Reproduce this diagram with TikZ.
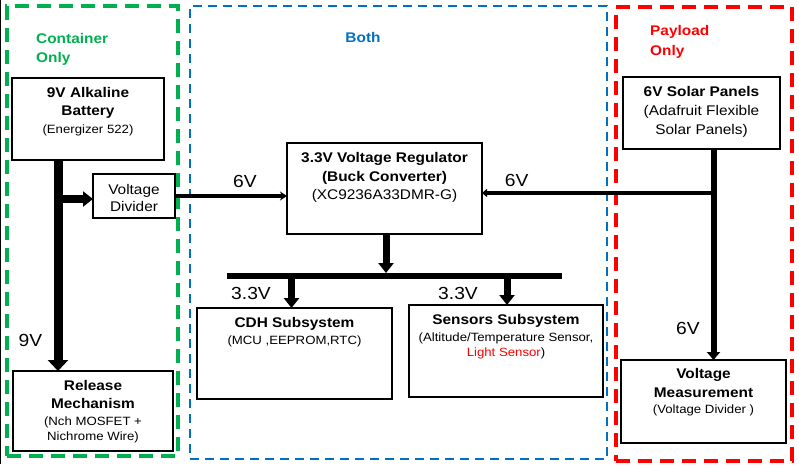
\documentclass[tikz,border=0pt]{standalone}
\usepackage{fontspec}
\setmainfont[FakeStretch=1.1]{Liberation Sans}
\usetikzlibrary{arrows.meta}
\definecolor{cgreen}{RGB}{0,176,80}
\definecolor{cblue}{RGB}{0,112,192}
\definecolor{cred}{RGB}{255,0,0}
\tikzset{
  blk/.style={draw=black, line width=2pt, inner sep=0pt, outer sep=0pt},
  zoneg/.style={draw=cgreen, line width=4pt, dash pattern=on 14pt off 8pt, inner sep=0pt, outer sep=0pt},
  zoneb/.style={draw=cblue, line width=2.5pt, dash pattern=on 9pt off 6pt, inner sep=0pt, outer sep=0pt},
  zoner/.style={draw=cred, line width=4pt, dash pattern=on 14pt off 8pt, inner sep=0pt, outer sep=0pt},
  ttl/.style={font=\fontsize{14}{16}\selectfont\bfseries, anchor=base, inner sep=0pt},
  sub/.style={font=\fontsize{12}{14}\selectfont, anchor=base, inner sep=0pt},
  subl/.style={font=\fontsize{14}{16}\selectfont, anchor=base, inner sep=0pt},
  lbl/.style={font=\fontsize{17.5}{20}\selectfont, anchor=base, inner sep=0pt},
  bigarr/.style={line width=9pt, -{Triangle[length=11pt,width=20pt]}},
  medarr/.style={line width=7pt, -{Triangle[length=10pt,width=15pt]}},
  thinarr/.style={line width=3.5pt, -{Stealth[length=7pt,width=9pt]}},
}
\begin{document}
\begin{tikzpicture}[x=1pt,y=-1pt]
\useasboundingbox (0,0) rectangle (799,464);
\draw[line width=1pt] (0.5,0) -- (0.5,464);
% zones
\node[zoneg, minimum width=171pt, minimum height=450pt] (zc) at (92.5,231) {};
\node[zoneb, minimum width=417pt, minimum height=453pt] (zb) at (398.5,232.5) {};
\node[zoner, minimum width=176pt, minimum height=454pt] (zp) at (704,234) {};
\node[ttl, text=cgreen, anchor=base west] (c1) at (36,43.3) {Container};
\node[ttl, text=cgreen, anchor=base west] (c2) at (36,62) {Only};
\node[ttl, text=cblue] (b1) at (363,42.7) {Both};
\node[ttl, text=cred, anchor=base west] (p1) at (650,35.7) {Payload};
\node[ttl, text=cred, anchor=base west] (p2) at (650,55) {Only};
% boxes
\node[blk, minimum width=152pt, minimum height=82pt] (bat) at (88,119) {};
\node[blk, minimum width=82pt, minimum height=44pt] (div) at (134,196) {};
\node[blk, minimum width=195pt, minimum height=91pt] (reg) at (384.5,188.5) {};
\node[blk, minimum width=157pt, minimum height=72pt] (sol) at (701.5,113) {};
\node[blk, minimum width=165pt, minimum height=83pt] (vm) at (703.5,401.5) {};
\node[blk, minimum width=195pt, minimum height=91pt] (cdh) at (294.5,353.5) {};
\node[blk, minimum width=194pt, minimum height=92pt] (sen) at (506,351) {};
\node[blk, minimum width=160pt, minimum height=80pt] (rel) at (93,411) {};
% texts
\node[ttl] (bat1) at (88,97.3) {9V Alkaline};
\node[ttl] (bat2) at (88,115.3) {Battery};
\node[sub] (bat3) at (88,133) {(Energizer 522)};
\node[subl] (div1) at (134,194.3) {Voltage};
\node[subl] (div2) at (134,211.7) {Divider};
\node[ttl] (reg1) at (384.5,162.3) {3.3V Voltage Regulator};
\node[ttl] (reg2) at (384.5,181.3) {(Buck Converter)};
\node[subl] (reg3) at (384.5,199.5) {(XC9236A33DMR-G)};
\node[ttl] (sol1) at (701.5,96) {6V Solar Panels};
\node[subl] (sol2) at (701.5,115.5) {(Adafruit Flexible};
\node[subl] (sol3) at (701.5,134) {Solar Panels)};
\node[ttl] (cdh1) at (294.5,327.3) {CDH Subsystem};
\node[sub] (cdh2) at (294.5,344) {(MCU ,EEPROM,RTC)};
\node[ttl] (sen1) at (506,324.3) {Sensors Subsystem};
\node[sub] (sen2) at (506,341) {(Altitude/Temperature Sensor,};
\node[sub] (sen3) at (506,356.5) {\textcolor{cred}{Light Sensor})};
\node[ttl] (rel1) at (93,390) {Release};
\node[ttl] (rel2) at (93,408.3) {Mechanism};
\node[sub] (rel3) at (93,425) {(Nch MOSFET +};
\node[sub] (rel4) at (93,440) {Nichrome Wire)};
\node[ttl] (vm1) at (703.5,378.3) {Voltage};
\node[ttl] (vm2) at (703.5,397.7) {Measurement};
\node[sub] (vm3) at (703.5,413.3) {(Voltage Divider )};
% labels
\node[lbl] (l1) at (245,187.3) {6V};
\node[lbl] (l2) at (516.7,186.7) {6V};
\node[lbl] (l3) at (688,334) {6V};
\node[lbl] (l4) at (251,299) {3.3V};
\node[lbl] (l5) at (458,299) {3.3V};
\node[lbl] (l6) at (30.5,346.7) {9V};
% coordinates
\coordinate (batx) at (58,0);
\coordinate (br) at (54,199);
\coordinate (solx) at (713.5,0);
\coordinate (jn) at (713.5,193);
\coordinate (regx) at (386,0);
\coordinate (busL) at (227,276);
\coordinate (busR) at (562,276);
\coordinate (bustop) at (0,273);
\coordinate (busbot) at (0,279);
\coordinate (cdhx) at (291.5,0);
\coordinate (senx) at (507,0);
% connectors
\draw[bigarr] (bat.south -| batx) -- (rel.north -| batx);
\draw[line width=8pt, -{Triangle[length=10pt,width=15pt]}] (br) -- (div.west |- br);
\draw[thinarr] (div.east) -- (reg.west |- div.east);
\draw[line width=6pt, -{Triangle[length=8pt,width=13pt]}] (sol.south -| solx) -- (vm.north -| solx);
\draw[line width=4pt, -{Triangle[length=5pt,width=8pt]}] (jn) -- (reg.east |- jn);
\draw[medarr] (reg.south -| regx) -- (bustop -| regx);
\draw[line width=6.3pt] (busL) -- (busR);
\draw[medarr] (busbot -| cdhx) -- (cdh.north -| cdhx);
\draw[medarr] (busbot -| senx) -- (sen.north -| senx);
\end{tikzpicture}
\end{document}
